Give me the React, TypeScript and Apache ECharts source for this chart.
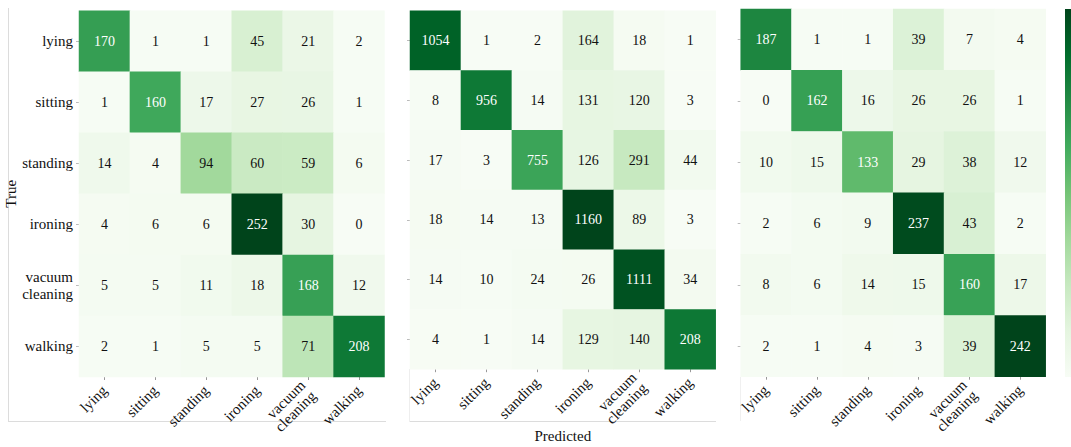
import React, { useEffect, useRef } from "react";
import * as echarts from "echarts";

const classes = ["lying", "sitting", "standing", "ironing", "vacuum\ncleaning", "walking"];

const matrixA = [
  [170, 1, 1, 45, 21, 2],
  [1, 160, 17, 27, 26, 1],
  [14, 4, 94, 60, 59, 6],
  [4, 6, 6, 252, 30, 0],
  [5, 5, 11, 18, 168, 12],
  [2, 1, 5, 5, 71, 208],
];

const matrixB = [
  [1054, 1, 2, 164, 18, 1],
  [8, 956, 14, 131, 120, 3],
  [17, 3, 755, 126, 291, 44],
  [18, 14, 13, 1160, 89, 3],
  [14, 10, 24, 26, 1111, 34],
  [4, 1, 14, 129, 140, 208],
];

const matrixC = [
  [187, 1, 1, 39, 7, 4],
  [0, 162, 16, 26, 26, 1],
  [10, 15, 133, 29, 38, 12],
  [2, 6, 9, 237, 43, 2],
  [8, 6, 14, 15, 160, 17],
  [2, 1, 4, 3, 39, 242],
];

// In the reference, the middle matrix's walking/walking cell is labelled 208
// but shaded like a value of about 960; this keeps that shade.
const shadeOverrideB = { row: 5, col: 5, shade: 960 };

const greens = ["#f7fcf5", "#e5f5e0", "#c7e9c0", "#a1d99b", "#74c476", "#41ab5d", "#238b45", "#006d2c", "#00441b"];

const FONT = "'Liberation Serif', 'Times New Roman', serif";

export default function App() {
  const ref = useRef<HTMLDivElement>(null);
  useEffect(() => {
    if (!ref.current) return;
    const chart = echarts.init(ref.current, null, { renderer: "svg" });
    const mats = [matrixA, matrixB, matrixC];
    const grids = [
      { left: 79, top: 10.7, width: 305.5, height: 366.3, outerBoundsMode: "none", containLabel: false },
      { left: 410, top: 10.7, width: 305.7, height: 358.5, outerBoundsMode: "none", containLabel: false },
      { left: 740.7, top: 9, width: 305, height: 367.7, outerBoundsMode: "none", containLabel: false },
    ];
    const maxes = mats.map((m) => Math.max(...m.flat()));
    const series = mats.map((m, i) => {
      const data: any[] = [];
      m.forEach((row, r) =>
        row.forEach((v, c) => {
          let shade = v;
          if (i === 1 && r === shadeOverrideB.row && c === shadeOverrideB.col) shade = shadeOverrideB.shade;
          const frac = shade / maxes[i];
          data.push({
            value: [c, r, shade, v],
            label: { color: frac > 0.52 ? "#ffffff" : "#111111" },
          });
        })
      );
      return {
        type: "heatmap",
        xAxisIndex: i,
        yAxisIndex: i,
        data,
        label: {
          show: true,
          fontFamily: FONT,
          fontSize: 14,
          formatter: (p: any) => String(p.value[3]),
        },
        itemStyle: { borderWidth: 0 },
        emphasis: { disabled: true },
      };
    });
    const xAxis = grids.map((_, i) => ({
      type: "category",
      gridIndex: i,
      data: classes,
      axisLine: { show: false },
      axisTick: { show: true, length: 3, alignWithLabel: true, lineStyle: { color: "#999" } },
      axisLabel: {
        rotate: 45,
        margin: 11,
        fontFamily: FONT,
        fontSize: 15,
        color: "#111",
        lineHeight: 15,
        interval: 0,
      },
      splitLine: { show: false },
      splitArea: { show: false },
      name: i === 1 ? "Predicted" : "",
      nameLocation: "middle",
      nameGap: 59,
      nameMoveOverlap: false,
      nameTextStyle: { fontFamily: FONT, fontSize: 15, lineHeight: 15, color: "#111" },
    }));
    const yAxis = grids.map((_, i) => ({
      type: "category",
      gridIndex: i,
      data: classes,
      inverse: true,
      axisLine: { show: false },
      axisTick: { show: true, length: 3, alignWithLabel: true, lineStyle: { color: "#bbb" } },
      axisLabel: {
        show: i === 0,
        margin: 6,
        fontFamily: FONT,
        fontSize: 15,
        color: "#111",
        lineHeight: 17,
        interval: 0,
      },
      splitLine: { show: false },
      name: i === 0 ? "True" : "",
      nameLocation: "middle",
      nameGap: 58,
      nameRotate: 90,
      nameTextStyle: { fontFamily: FONT, fontSize: 15, color: "#111" },
    }));
    const visualMap = maxes.map((mx, i) => ({
      type: "continuous",
      show: false,
      seriesIndex: i,
      dimension: 2,
      min: 0,
      max: mx,
      inRange: { color: greens },
    }));
    const frameColor = "#dcdcdc";
    chart.setOption({
      animation: false,
      grid: grids,
      xAxis,
      yAxis,
      visualMap,
      series,
      graphic: [
        { type: "line", shape: { x1: 8.5, y1: 8, x2: 8.5, y2: 422 }, style: { stroke: frameColor, lineWidth: 1 } },
        { type: "line", shape: { x1: 8, y1: 421.5, x2: 386, y2: 421.5 }, style: { stroke: frameColor, lineWidth: 1 } },
        { type: "line", shape: { x1: 410, y1: 421.5, x2: 716, y2: 421.5 }, style: { stroke: frameColor, lineWidth: 1 } },
        { type: "line", shape: { x1: 409.5, y1: 369, x2: 409.5, y2: 422 }, style: { stroke: "#eeeeee", lineWidth: 1 } },
        { type: "line", shape: { x1: 740.5, y1: 377, x2: 740.5, y2: 421 }, style: { stroke: "#f0f0f0", lineWidth: 1 } },
        {
          type: "rect",
          shape: { x: 1065, y: 9, width: 12, height: 368 },
          style: {
            fill: new echarts.graphic.LinearGradient(0, 1, 0, 0,
              greens.map((c, k) => ({ offset: k / (greens.length - 1), color: c }))),
          },
        },
      ],
    });
    return () => chart.dispose();
  }, []);
  return (
    <div
      ref={ref}
      style={{ position: "absolute", left: 0, top: 0, width: 1071, height: 447, background: "#fff" }}
    />
  );
}
